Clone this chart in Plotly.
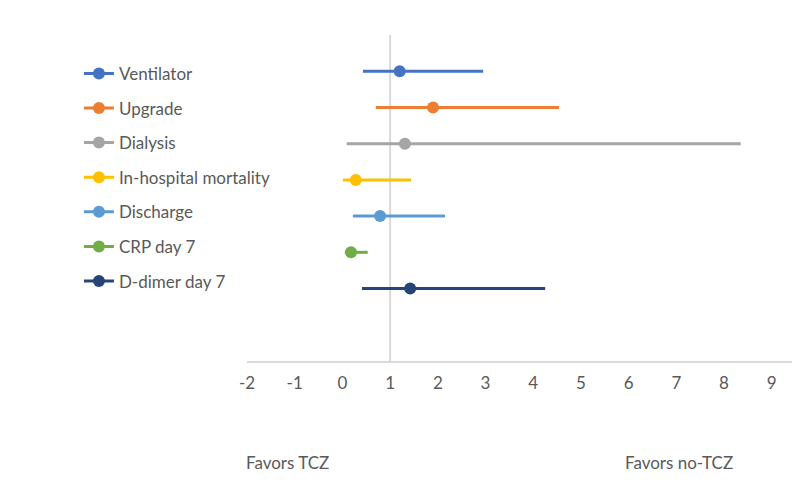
import plotly.graph_objects as go

outcomes = ["Ventilator", "Upgrade", "Dialysis", "In-hospital mortality",
            "Discharge", "CRP day 7", "D-dimer day 7"]
estimate = [1.20, 1.90, 1.31, 0.28, 0.79, 0.18, 1.42]
lower = [0.43, 0.70, 0.09, 0.01, 0.22, 0.05, 0.41]
upper = [2.95, 4.54, 8.35, 1.44, 2.15, 0.53, 4.25]
row_pos = [8, 7, 6, 5, 4, 3, 2]
colors = ["#4472C4", "#ED7D31", "#A5A5A5", "#FFC000", "#5B9BD5", "#70AD47", "#264478"]
x_ticks = [-2, -1, 0, 1, 2, 3, 4, 5, 6, 7, 8, 9]
x_tick_text = ["-2", "-1", "0", "1", "2", "3", "4", "5", "6", "7", "8", "9"]
null_value = 1

FONT = "Lato"
TXT = "#595959"
FS = 17

fig = go.Figure()
for i, name in enumerate(outcomes):
    fig.add_trace(go.Scatter(
        x=[estimate[i]], y=[row_pos[i]], name=name,
        mode="lines+markers",
        legendgroup=name,
        line=dict(color=colors[i], width=3),
        marker=dict(color=colors[i], size=12),
        error_x=dict(type="data", symmetric=False,
                     array=[upper[i] - estimate[i]],
                     arrayminus=[estimate[i] - lower[i]],
                     width=0, thickness=3, color=colors[i]),
    ))

fig.add_shape(type="line", x0=null_value, x1=null_value, y0=0, y1=9,
              xref="x", yref="y", line=dict(color="#D9D9D9", width=2), layer="below")

fig.add_annotation(text="Favors TCZ", x=-0.006, xref="paper", xanchor="left",
                   y=-0.31, yref="paper", yanchor="middle", showarrow=False,
                   font=dict(family=FONT, size=FS, color=TXT))
fig.add_annotation(text="Favors no-TCZ", x=0.682, xref="paper", xanchor="left",
                   y=-0.31, yref="paper", yanchor="middle", showarrow=False,
                   font=dict(family=FONT, size=FS, color=TXT))

fig.update_layout(
    width=800, height=495,
    margin=dict(l=239, r=10, t=27, b=142),
    paper_bgcolor="white", plot_bgcolor="white",
    font=dict(family=FONT, size=FS, color=TXT),
    showlegend=True,
    legend=dict(x=-0.305, xanchor="left", y=0.936, yanchor="top",
                tracegroupgap=9.5, font=dict(family=FONT, size=FS, color=TXT),
                bgcolor="rgba(0,0,0,0)"),
    xaxis=dict(range=[-2, 9.55], tickmode="array", tickvals=x_ticks,
               ticktext=x_tick_text,
               showgrid=False, zeroline=False, showline=True,
               linecolor="#D9D9D9", linewidth=2,
               ticks="", ticklabelstandoff=6,
               tickfont=dict(family=FONT, size=FS, color=TXT)),
    yaxis=dict(range=[0, 9], visible=False, showgrid=False, zeroline=False),
)

fig.write_html("out.html")
